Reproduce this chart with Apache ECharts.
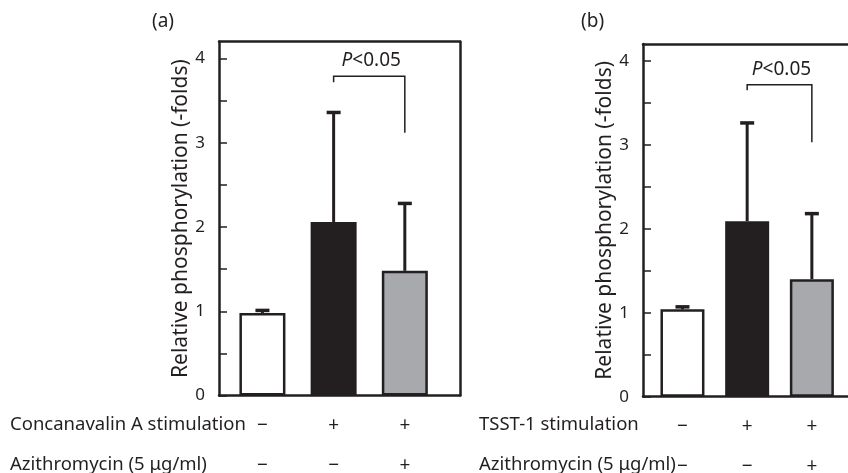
<!DOCTYPE html>
<html>
<head>
<meta charset="utf-8">
<script src="https://cdn.jsdelivr.net/npm/echarts@6/dist/echarts.min.js"></script>
<style>
  html, body { margin: 0; padding: 0; background: #fff; }
  #chart { width: 848px; height: 473px; }
</style>
</head>
<body>
<div id="chart"></div>
<script>
var chart = echarts.init(document.getElementById('chart'));

// data
var xPos = [1, 2, 3];
var stimRow = ['−', '+', '+'];
var aziRow = ['−', '−', '+'];
var meanA = [0.98, 2.06, 1.48];
var topA = [1.01, 3.36, 2.28];
var meanB = [1.04, 2.09, 1.40];
var topB = [1.07, 3.26, 2.18];
var barColors = ['#ffffff', '#231f20', '#a7a9ac'];
var yLabelVals = [0, 1, 2, 3, 4];
var yTickVals = [0, 0.5, 1, 1.5, 2, 2.5, 3, 3.5, 4];
// [x from, x to, top, left end, right end]
var bracketA = [2, 3, 3.79, 3.72, 3.12];
var bracketB = [2, 3, 3.715, 3.65, 3.03];

var ink = '#231f20';
var font = 'Noto Sans';

function barData(means) {
    var out = [];
    for (var i = 0; i < xPos.length; i++) {
        out.push({ value: [xPos[i], means[i]], itemStyle: { color: barColors[i] } });
    }
    return out;
}
function errData(means, tops) {
    var out = [];
    for (var i = 0; i < xPos.length; i++) out.push([xPos[i], means[i], tops[i]]);
    return out;
}

function renderErr(params, api) {
    var p0 = api.coord([api.value(0), api.value(1)]);
    var p1 = api.coord([api.value(0), api.value(2)]);
    return {
        type: 'group',
        children: [
            { type: 'line', shape: { x1: p0[0], y1: p0[1], x2: p1[0], y2: p1[1] },
              style: { stroke: ink, lineWidth: 3 } },
            { type: 'line', shape: { x1: p1[0] - 7, y1: p1[1], x2: p1[0] + 7, y2: p1[1] },
              style: { stroke: ink, lineWidth: 3.5 } }
        ]
    };
}

function renderBracket(params, api) {
    var a = api.coord([api.value(0), api.value(2)]);
    var b = api.coord([api.value(1), api.value(2)]);
    var la = api.coord([api.value(0), api.value(3)]);
    var rb = api.coord([api.value(1), api.value(4)]);
    return {
        type: 'group',
        children: [
            { type: 'polyline', shape: { points: [[la[0], la[1]], [a[0], a[1]], [b[0], b[1]], [rb[0], rb[1]]] },
              style: { stroke: ink, lineWidth: 1.5, fill: null } },
            { type: 'text', x: (a[0] + b[0]) / 2 + 2, y: a[1] - 6,
              style: { text: '{i|P}<0.05', fill: ink, font: '19px "' + font + '"',
                       align: 'center', verticalAlign: 'bottom',
                       rich: { i: { fontStyle: 'italic', fontSize: 19, fontFamily: font, fill: ink } } } }
        ]
    };
}

function makeX(gi) {
    return [{
        type: 'value', gridIndex: gi, min: 0.39, max: 3.775, position: 'bottom',
        splitLine: { show: false },
        axisLine: { show: true, onZero: false, lineStyle: { color: ink, width: 2.5 } },
        axisTick: { show: false },
        axisLabel: {
            customValues: xPos, margin: 10, color: ink, fontFamily: font, fontSize: 19, lineHeight: 40,
            formatter: function (v) { var i = xPos.indexOf(v); return stimRow[i] + '\n' + aziRow[i]; }
        }
    }, {
        type: 'value', gridIndex: gi, min: 0.39, max: 3.775, position: 'top',
        splitLine: { show: false },
        axisLine: { show: true, onZero: false, lineStyle: { color: ink, width: 2.5 } },
        axisTick: { show: false }, axisLabel: { show: false }
    }];
}
function makeY(gi) {
    return [{
        type: 'value', gridIndex: gi, min: 0, max: 4.2, position: 'left',
        name: 'Relative phosphorylation (-folds)', nameLocation: 'middle', nameGap: 25,
        nameTextStyle: { color: ink, fontFamily: font, fontSize: 21 },
        splitLine: { show: false },
        axisLine: { show: true, onZero: false, lineStyle: { color: ink, width: 2.5 } },
        axisTick: { show: true, inside: true, length: 8, customValues: yTickVals, lineStyle: { color: ink, width: 1.5 } },
        axisLabel: { customValues: yLabelVals, margin: 14, color: ink, fontFamily: font, fontSize: 17 }
    }, {
        type: 'value', gridIndex: gi, min: 0, max: 4.2, position: 'right',
        splitLine: { show: false },
        axisLine: { show: true, onZero: false, lineStyle: { color: ink, width: 2.5 } },
        axisTick: { show: false }, axisLabel: { show: false }
    }];
}

var xa = makeX(0), xb = makeX(1), ya = makeY(0), yb = makeY(1);
var txt = '18.5px "Noto Sans"';

var option = {
    backgroundColor: '#ffffff',
    animation: false,
    grid: [
        { left: 219, top: 41.7, width: 241, bottom: 77.5, outerBoundsMode: 'none', containLabel: false },
        { left: 643, top: 44, width: 219, bottom: 76.3, outerBoundsMode: 'none', containLabel: false }
    ],
    xAxis: [xa[0], xa[1], xb[0], xb[1]],
    yAxis: [ya[0], ya[1], yb[0], yb[1]],
    graphic: [
        { type: 'text', left: 152, top: 12, style: { text: '(a)', fill: ink, font: '19px "Noto Sans"' } },
        { type: 'text', left: 581, top: 12, style: { text: '(b)', fill: ink, font: '19px "Noto Sans"' } },
        { type: 'text', left: 10, top: 415, style: { text: 'Concanavalin A stimulation', fill: ink, font: txt } },
        { type: 'text', left: 10, top: 455, style: { text: 'Azithromycin (5 μg/ml)', fill: ink, font: txt } },
        { type: 'text', left: 479, top: 415, style: { text: 'TSST-1 stimulation', fill: ink, font: txt } },
        { type: 'text', left: 479, top: 455, style: { text: 'Azithromycin (5 μg/ml)', fill: ink, font: txt } }
    ],
    series: [
        { type: 'bar', xAxisIndex: 0, yAxisIndex: 0, barWidth: 46, data: barData(meanA),
          itemStyle: { borderColor: ink, borderWidth: 2.5 } },
        { type: 'custom', xAxisIndex: 0, yAxisIndex: 0, z: 3, renderItem: renderErr, data: errData(meanA, topA) },
        { type: 'custom', xAxisIndex: 0, yAxisIndex: 0, z: 3, renderItem: renderBracket, data: [bracketA] },
        { type: 'bar', xAxisIndex: 2, yAxisIndex: 2, barWidth: 44, data: barData(meanB),
          itemStyle: { borderColor: ink, borderWidth: 2.5 } },
        { type: 'custom', xAxisIndex: 2, yAxisIndex: 2, z: 3, renderItem: renderErr, data: errData(meanB, topB) },
        { type: 'custom', xAxisIndex: 2, yAxisIndex: 2, z: 3, renderItem: renderBracket, data: [bracketB] }
    ]
};
chart.setOption(option);
window.onresize = function () { chart.resize(); };
</script>
</body>
</html>
